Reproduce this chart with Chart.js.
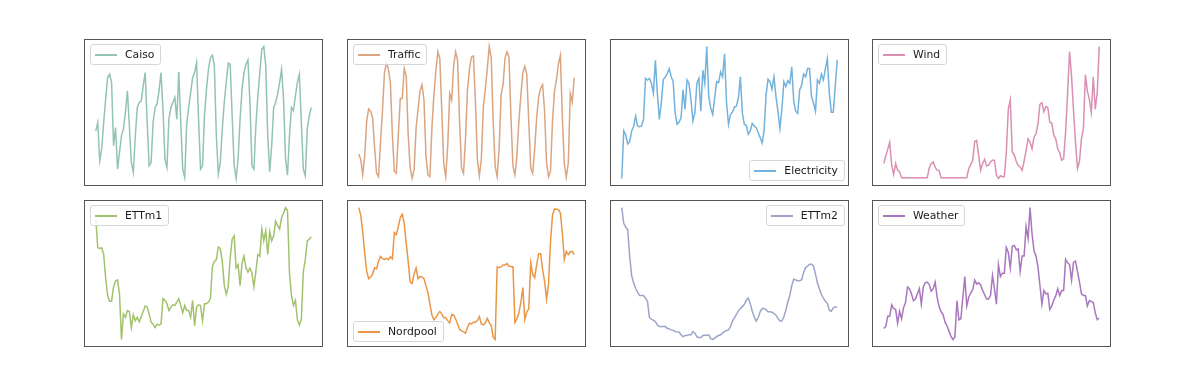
<!DOCTYPE html>
<html lang="en">
<head>
  <meta charset="UTF-8">
  <title>Datasets overview</title>
  <script src="https://cdn.jsdelivr.net/npm/chart.js"></script>
  <style>
    html, body { margin: 0; padding: 0; background: #fff; }
    #fig { position: relative; width: 1196px; height: 385px; overflow: hidden; }
    .panel { position: absolute; width: 239px; height: 147px; border: 1px solid #555; box-sizing: border-box; }
    .panel canvas { display: block; }
    .legend {
      position: absolute; background: rgba(255,255,255,0.8);
      border: 1px solid #d6d6d6; border-radius: 3px;
      height: 21px; box-sizing: border-box; padding: 0 6px 0 4px;
      display: flex; align-items: center;
      font-family: "DejaVu Sans", sans-serif; font-size: 10.8px; color: #1a1a1a;
      white-space: nowrap;
    }
    .legend .swatch { display: inline-block; width: 22px; height: 2px; margin-right: 8px; }
  </style>
</head>
<body>
<div id="fig"></div>

<script>
  // series names, in panel order (row by row)
  const names = ['Caiso', 'Traffic', 'Electricity', 'Wind', 'ETTm1', 'Nordpool', 'ETTm2', 'Weather'];

  // values (relative units, one sample per step)
  const caiso = [165,190,75,110,190,260,325,335,310,120,175,50,100,150,170,220,285,180,70,40,
    150,235,250,255,300,340,190,60,70,190,235,245,285,340,230,80,55,200,235,250,
    265,200,342,190,50,25,185,235,280,325,340,370,200,50,60,210,290,350,385,392,
    360,150,35,70,170,250,310,368,365,210,60,22,80,200,290,340,365,378,250,60,
    50,180,270,340,410,418,360,150,42,120,235,250,275,310,350,260,80,32,150,235,
    225,270,310,335,190,50,30,170,210,235];

  const traffic = [95,80,35,90,190,225,218,200,115,40,30,130,220,330,358,340,300,150,45,40,
    150,255,255,342,320,150,55,25,50,170,225,278,295,250,90,35,30,170,265,335,
    390,370,220,65,30,120,270,250,350,390,365,190,55,40,140,280,340,375,378,250,
    80,32,80,230,280,340,405,372,190,60,30,110,265,295,372,390,375,200,60,35,
    90,190,265,330,348,325,190,55,40,110,200,260,285,295,220,70,30,45,190,275,
    310,355,380,200,65,28,70,270,245,315];

  const electricity = [20,165,153,125,132,165,178,210,180,178,180,200,325,320,325,310,280,380,280,200,
    250,322,328,340,354,330,315,220,185,192,205,290,230,320,310,260,195,220,310,325,
    225,350,310,422,270,235,215,265,315,312,345,330,400,250,185,215,222,238,240,265,
    330,220,185,182,155,165,188,180,175,160,145,128,165,275,322,315,292,330,270,225,
    172,230,315,300,318,310,360,255,225,218,290,305,338,330,355,355,270,250,225,320,
    310,338,320,355,385,280,222,222,300,382];

  const wind = [65,88,108,130,60,32,65,45,40,22,22,22,22,22,22,22,22,22,22,22,
    22,22,22,52,65,70,54,45,44,22,22,22,22,22,22,22,22,22,22,22,
    22,22,22,50,62,75,132,135,90,45,65,78,58,60,70,75,75,30,20,28,
    25,25,100,230,258,100,92,72,60,55,45,72,105,140,130,110,145,155,185,245,
    250,222,238,235,190,188,152,140,110,98,75,80,160,280,405,330,225,130,50,72,
    140,170,335,285,260,220,328,230,280,420];

  const ettm1 = [375,290,288,290,270,200,150,132,132,175,192,195,155,20,95,85,105,102,55,92,
    75,85,72,87,102,118,115,95,70,65,55,65,62,65,140,135,125,105,115,122,
    120,130,140,120,98,120,105,105,85,135,60,115,122,120,75,125,125,130,140,235,
    250,255,292,288,250,180,153,175,260,315,325,230,240,178,245,265,230,218,230,215,
    175,220,270,265,345,310,340,270,338,310,325,368,355,345,378,392,408,400,215,150,
    120,135,78,62,80,220,255,310,315,322];

  const nordpool = [418,395,345,280,225,202,207,217,235,232,255,270,263,261,264,260,269,262,342,336,
    360,388,398,370,310,255,192,188,217,235,202,209,207,202,180,160,125,92,78,84,
    95,103,95,84,84,75,68,93,92,80,65,49,44,41,37,55,67,65,70,70,
    75,87,65,62,67,82,69,60,25,18,238,236,238,244,244,248,240,239,238,69,
    80,98,130,175,78,102,110,250,215,205,245,278,278,230,195,140,185,315,395,414,
    413,412,402,340,260,285,275,284,285,275];

  const ettm2 = [418,370,358,350,270,210,188,172,160,150,150,150,142,132,83,77,75,70,60,55,
    55,55,55,50,48,45,44,40,39,38,30,24,28,28,30,30,40,35,24,22,
    22,28,29,29,30,18,16,20,25,28,30,36,40,43,45,55,72,82,92,103,
    110,116,123,136,142,125,102,85,72,82,100,110,110,107,100,100,99,95,90,80,
    72,72,85,105,130,150,180,200,197,195,195,198,220,235,239,245,245,240,215,188,
    170,153,142,132,126,105,102,112,115,115];

  const weather = [50,55,85,85,118,107,105,65,100,78,110,125,170,165,150,130,135,150,165,120,
    170,182,184,177,158,165,184,140,113,98,90,68,57,42,27,18,25,130,75,78,
    140,200,115,140,153,162,190,178,182,176,160,148,135,135,145,203,165,120,235,200,
    210,210,285,270,225,288,290,278,280,215,260,260,345,310,400,325,275,260,228,175,
    120,160,150,152,105,115,132,144,165,145,160,160,250,240,235,190,242,245,215,185,
    150,145,145,115,130,128,125,95,75,80];

  const series = [caiso, traffic, electricity, wind, ettm1, nordpool, ettm2, weather];
  const colors = ['#93c4b2', '#dba582', '#72b2dc', '#d990b2', '#a2c26c', '#ea9647', '#9ca5c9', '#a977be'];
  const legendCorner = ['ul', 'ul', 'lr', 'ul', 'ul', 'll', 'ur', 'ul'];

  // panel frame positions (px)
  const cols = [84, 347, 610, 872];
  const rows = [39, 200];

  const fig = document.getElementById('fig');

  series.forEach((values, k) => {
    const panel = document.createElement('div');
    panel.className = 'panel';
    panel.style.left = cols[k % 4] + 'px';
    panel.style.top = rows[Math.floor(k / 4)] + 'px';
    const canvas = document.createElement('canvas');
    canvas.width = 237;
    canvas.height = 145;
    panel.appendChild(canvas);

    // matplotlib-like legend box inside the axes
    const leg = document.createElement('div');
    leg.className = 'legend';
    leg.innerHTML = `<span class="swatch" style="background-color:${colors[k]}"></span>${names[k]}`;
    const c = legendCorner[k];
    if (c[0] === 'u') leg.style.top = '4px'; else leg.style.bottom = '4px';
    if (c[1] === 'l') leg.style.left = '5px'; else leg.style.right = '3px';
    panel.appendChild(leg);
    fig.appendChild(panel);

    // 5% margins like matplotlib autoscale
    const n = values.length;
    const lo = Math.min(...values), hi = Math.max(...values);
    const pad = (hi - lo) * 0.05;

    new Chart(canvas.getContext('2d'), {
      type: 'line',
      data: {
        datasets: [{
          label: names[k],
          data: values.map((v, i) => ({ x: i, y: v })),
          borderColor: colors[k],
          borderWidth: 1.5,
          pointRadius: 0,
          tension: 0,
          fill: false,
        }],
      },
      options: {
        responsive: false,
        animation: false,
        layout: { padding: 0 },
        plugins: { legend: { display: false }, tooltip: { enabled: false } },
        scales: {
          x: { type: 'linear', display: false, min: -(n - 1) * 0.05, max: (n - 1) * 1.05 },
          y: { display: false, min: lo - pad, max: hi + pad },
        },
      },
    });
  });
</script>
</body>
</html>
